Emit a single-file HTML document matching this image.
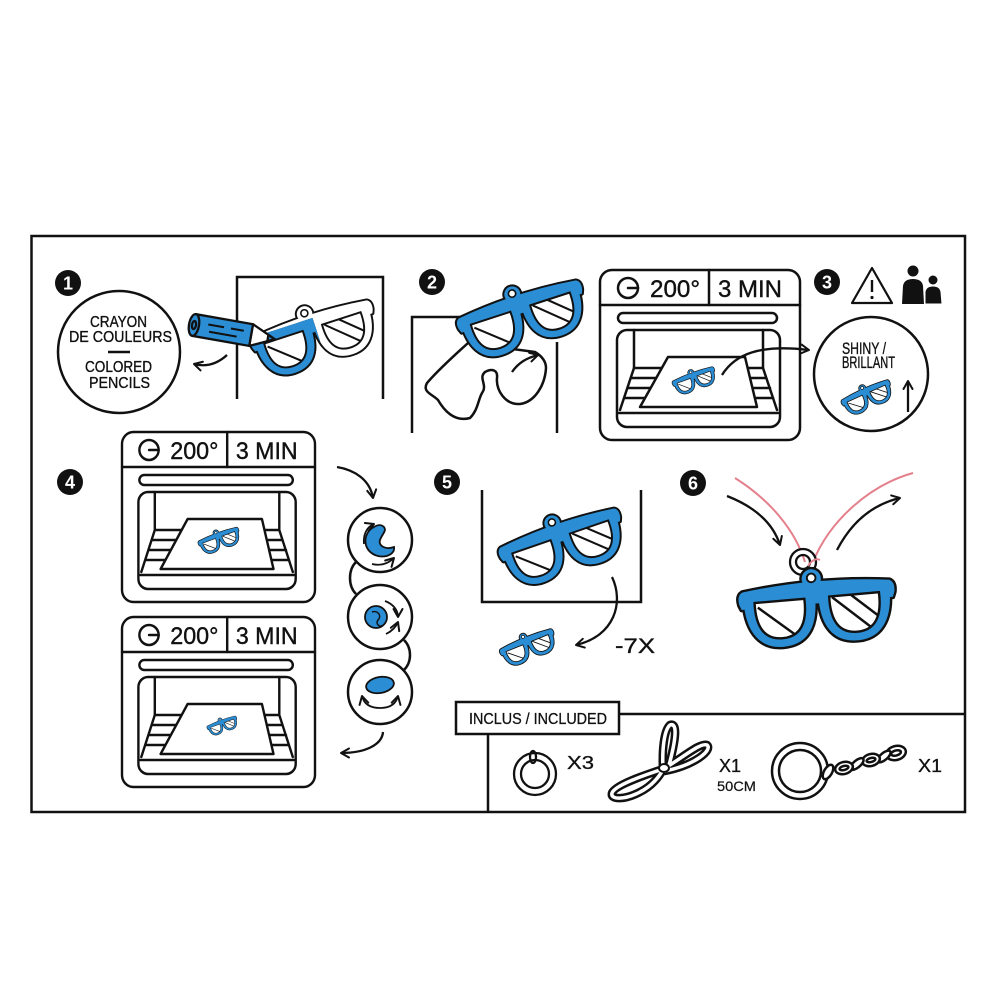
<!DOCTYPE html>
<html><head><meta charset="utf-8"><style>
html,body{margin:0;padding:0;background:#fff;}
svg{display:block;}
text{font-family:"Liberation Sans",sans-serif;}
</style></head><body>
<svg width="1000" height="1000" viewBox="0 0 1000 1000" xmlns="http://www.w3.org/2000/svg" xmlns:xlink="http://www.w3.org/1999/xlink" style="color:#2b8dd3">
<defs>
 <marker id="ah" viewBox="0 0 12 12" refX="10" refY="6" markerWidth="12" markerHeight="12" orient="auto" markerUnits="userSpaceOnUse">
  <path d="M2,1.5 L10,6 L2,10.5" fill="none" stroke="#111" stroke-width="2" stroke-linecap="round" stroke-linejoin="round"/>
 </marker>
 <clipPath id="clL"><path d="M15,25 L67,25 C68,50 60,64 41,64 C22,64 14,50 15,25 Z"/></clipPath>
 <clipPath id="clR"><path d="M93,25 L145,25 C146,50 138,64 119,64 C100,64 92,50 93,25 Z"/></clipPath>
 <clipPath id="clBlue"><rect x="-10" y="13" width="94" height="70"/></clipPath>
 <g id="glshape">
  <path d="M3,13 Q80,3 157,13 Q163,16 161,26 L159,31 L1,31 L-1,26 Q-3,16 3,13 Z"/>
  <path d="M4,18 L78,18 C80,50 70,73 41,73 C14,73 2,50 4,18 Z"/>
  <path d="M82,18 L156,18 C158,50 146,73 119,73 C90,73 80,50 82,18 Z"/>
  <circle cx="76" cy="5" r="10"/>
 </g>
 <g id="gl">
  <use xlink:href="#glshape" href="#glshape" fill="#111" stroke="#111" stroke-width="5" stroke-linejoin="round"/>
  <use xlink:href="#glshape" href="#glshape" fill="currentColor"/>
  <circle cx="76" cy="4" r="4.5" fill="#fff" stroke="#111" stroke-width="2"/>
  <path d="M15,25 L67,25 C68,50 60,64 41,64 C22,64 14,50 15,25 Z" fill="#fff" stroke="#111" stroke-width="2.5"/>
  <path d="M93,25 L145,25 C146,50 138,64 119,64 C100,64 92,50 93,25 Z" fill="#fff" stroke="#111" stroke-width="2.5"/>
  <g stroke="#111" stroke-width="2.6" clip-path="url(#clL)"><line x1="18" y1="30" x2="62" y2="68"/></g>
  <g stroke="#111" stroke-width="2.6" clip-path="url(#clR)"><line x1="96" y1="26" x2="140" y2="66"/><line x1="110" y1="20" x2="152" y2="58"/></g>
 </g>
 <g id="oven">
  <g fill="none" stroke="#111" stroke-width="2.5" stroke-linejoin="round" stroke-linecap="round">
   <rect x="0" y="0" width="200" height="170" rx="12" fill="#fff"/>
   <line x1="0" y1="35" x2="200" y2="35"/>
   <line x1="109" y1="0" x2="109" y2="35"/>
   <circle cx="28" cy="18" r="10"/>
   <line x1="28" y1="18" x2="38" y2="18"/>
   <rect x="18" y="43" width="159" height="10" rx="5"/>
   <rect x="17" y="60" width="163" height="97" rx="10"/>
   <path d="M34,60 V98 L20,140 M163,60 V98 L177,140"/>
   <path d="M34,98 H62 M31,108 H56 M28,118 H51 M25,128 H45"/>
   <path d="M148,98 H163 M150,108 H166 M152,118 H170 M155,128 H173"/>
   <line x1="19" y1="143" x2="178" y2="143"/>
   <polygon points="68,87 145,87 157,137 40,137" fill="#fff"/>
  </g>
  <text x="50" y="27" font-size="24" fill="#111" stroke="#111" stroke-width="0.4" textLength="50" lengthAdjust="spacingAndGlyphs">200°</text>
  <text x="118" y="27" font-size="24" fill="#111" stroke="#111" stroke-width="0.4" textLength="64" lengthAdjust="spacingAndGlyphs">3 MIN</text>
 </g>
</defs>

<rect x="0" y="0" width="1000" height="1000" fill="#fff"/>
<rect x="31.5" y="236" width="933.5" height="576" fill="none" stroke="#111" stroke-width="2.5"/>

<!-- ===== STEP 1 ===== -->
<g fill="none" stroke="#111" stroke-width="2.5">
 <path d="M237,399 V277 H383 V399"/>
 <circle cx="119" cy="352" r="61" fill="#fff"/>
 <line x1="108" y1="352" x2="130" y2="352"/>
</g>
<g font-size="16" fill="#111" stroke="#111" stroke-width="0.35">
 <text x="90" y="327" textLength="57" lengthAdjust="spacingAndGlyphs">CRAYON</text>
 <text x="69" y="342" textLength="103" lengthAdjust="spacingAndGlyphs">DE COULEURS</text>
 <text x="85" y="372" textLength="67" lengthAdjust="spacingAndGlyphs">COLORED</text>
 <text x="89" y="388" textLength="61" lengthAdjust="spacingAndGlyphs">PENCILS</text>
</g>
<g transform="translate(316,339) rotate(-18) scale(0.78) translate(-80,-40)">
 <use xlink:href="#gl" href="#gl" style="color:#fff"/>
 <g clip-path="url(#clBlue)"><use xlink:href="#gl" href="#gl" style="color:#2b8dd3"/></g>
</g>
<g transform="translate(194,325) rotate(10)" stroke="#111" stroke-width="2.3" stroke-linejoin="round">
 <polygon points="58,-11 82,0 58,11" fill="#fff"/>
 <polygon points="75,-3 82,0 75,3" fill="#2b8dd3"/>
 <rect x="0" y="-11" width="58" height="22" fill="#2b8dd3"/>
 <ellipse cx="0" cy="0" rx="5" ry="11" fill="#2b8dd3"/>
 <ellipse cx="0" cy="0" rx="2" ry="4" fill="none"/>
 <path d="M14,-3 H30 M37,-3 H50 M16,4 H44" fill="none" stroke-width="2"/>
</g>
<path d="M227,355 C216,365 205,367 194,364" fill="none" stroke="#111" stroke-width="2.3" marker-end="url(#ah)"/>

<!-- ===== STEP 2 ===== -->
<path d="M412,433 V317 H480 M557,342 V433" fill="none" stroke="#111" stroke-width="2.5"/>
<path d="M468,343 C455,355 440,368 427,383 C422,392 432,394 438,400 C445,412 455,422 470,418 C478,410 478,400 482,393 C488,385 478,378 485,372 C492,368 498,370 497,378 C496,390 505,405 520,404 C535,402 545,385 546,368 C546,360 540,355 535,352 Z" fill="#fff" stroke="#111" stroke-width="2.5" stroke-linejoin="round"/>
<g transform="translate(524,320) rotate(-18) scale(0.8) translate(-80,-40)"><use xlink:href="#gl" href="#gl"/></g>
<path d="M512,372 C519,362 527,358 538,355" fill="none" stroke="#111" stroke-width="2.3" marker-end="url(#ah)"/>

<!-- ===== STEP 3 ===== -->
<use xlink:href="#oven" href="#oven" transform="translate(600,270)"/>
<g transform="translate(695,381) rotate(-20) scale(0.27) translate(-80,-40)"><use xlink:href="#gl" href="#gl"/></g>
<path d="M722,375 C735,354 760,344 809,350" fill="none" stroke="#111" stroke-width="2.3" marker-end="url(#ah)"/>
<polygon points="872,268 892,303 852,303" fill="none" stroke="#111" stroke-width="2.2" stroke-linejoin="round"/>
<line x1="872" y1="280" x2="872" y2="292" stroke="#111" stroke-width="2.4"/>
<circle cx="872" cy="297.5" r="1.6" fill="#111"/>
<g fill="#111">
 <circle cx="913" cy="271" r="5.5"/>
 <path d="M902,304 L903,286 Q904,279 913,279 Q922,279 923,286 L924,304 Z"/>
 <circle cx="933" cy="280" r="4.5"/>
 <path d="M925,304 L925,292 Q926,286 933,286 Q940,286 941,292 L942,304 Z" stroke="#fff" stroke-width="1"/>
</g>
<circle cx="871" cy="374" r="57" fill="#fff" stroke="#111" stroke-width="2.5"/>
<g font-size="16.5" fill="#111" stroke="#111" stroke-width="0.35">
 <text x="842" y="354" textLength="44" lengthAdjust="spacingAndGlyphs">SHINY /</text>
 <text x="842" y="368" textLength="53" lengthAdjust="spacingAndGlyphs">BRILLANT</text>
</g>
<g transform="translate(868,398) rotate(-24) scale(0.32) translate(-80,-40)"><use xlink:href="#gl" href="#gl"/></g>
<path d="M908,412 V381" fill="none" stroke="#111" stroke-width="2.3" marker-end="url(#ah)"/>

<!-- ===== STEP 4 ===== -->
<use xlink:href="#oven" href="#oven" transform="translate(122,432) scale(0.965,1)"/>
<g transform="translate(220,541) rotate(-20) scale(0.26) translate(-80,-40)"><use xlink:href="#gl" href="#gl"/></g>
<use xlink:href="#oven" href="#oven" transform="translate(122,617) scale(0.965,1)"/>
<g transform="translate(223,726) rotate(-20) scale(0.19) translate(-80,-40)"><use xlink:href="#gl" href="#gl"/></g>
<path d="M337,467 C355,470 370,480 373,498" fill="none" stroke="#111" stroke-width="2.3" marker-end="url(#ah)"/>
<path d="M383,732 C382,745 365,753 341,753" fill="none" stroke="#111" stroke-width="2.3" marker-end="url(#ah)"/>
<g fill="none" stroke="#111" stroke-width="2.5">
 <path d="M356,562 C348,570 348,586 356,594"/>
 <path d="M404,640 C412,648 412,662 404,670"/>
 <circle cx="380" cy="540" r="32" fill="#fff"/>
 <circle cx="380" cy="617" r="32" fill="#fff"/>
 <circle cx="380" cy="692" r="32" fill="#fff"/>
</g>
<path d="M374,527 C362,533 362,552 378,556 C388,558 395,553 394,547 C386,550 378,546 380,540 C382,534 387,531 384,527 C381,524 377,525 374,527 Z" fill="#2b8dd3" stroke="#111" stroke-width="1.8"/>
<path d="M364,544 C363,534 367,527 374,524" fill="none" stroke="#111" stroke-width="1.8" marker-end="url(#ah)"/>
<path d="M372,564 C380,566 388,564 394,558" fill="none" stroke="#111" stroke-width="1.8" marker-end="url(#ah)"/>
<circle cx="376" cy="617" r="11" fill="#2b8dd3" stroke="#111" stroke-width="1.8"/>
<path d="M372,612 C378,610 382,616 378,620 C375,624 380,628 383,625" fill="none" stroke="#111" stroke-width="1.5"/>
<path d="M385,601 C393,604 398,610 398,617" fill="none" stroke="#111" stroke-width="1.8" marker-end="url(#ah)"/>
<path d="M386,634 C392,631 396,627 398,622" fill="none" stroke="#111" stroke-width="1.8" marker-end="url(#ah)"/>
<ellipse cx="380" cy="685" rx="14" ry="8" transform="rotate(-10 380 685)" fill="#2b8dd3" stroke="#111" stroke-width="1.8"/>
<path d="M380,708 C370,708 364,704 362,696" fill="none" stroke="#111" stroke-width="1.8" marker-end="url(#ah)"/>
<path d="M380,708 C390,708 396,704 398,696" fill="none" stroke="#111" stroke-width="1.8" marker-end="url(#ah)"/>

<!-- ===== STEP 5 ===== -->
<path d="M482,490 V602 H641 V490" fill="none" stroke="#111" stroke-width="2.5"/>
<g transform="translate(564,548) rotate(-19) scale(0.78) translate(-80,-40)"><use xlink:href="#gl" href="#gl"/></g>
<g transform="translate(529,648) rotate(-22) scale(0.35) translate(-80,-40)"><use xlink:href="#gl" href="#gl"/></g>
<path d="M612,577 C624,602 615,636 576,645" fill="none" stroke="#111" stroke-width="2.3" marker-end="url(#ah)"/>
<text x="615" y="653" font-size="21" fill="#111" stroke="#111" stroke-width="0.35" textLength="40" lengthAdjust="spacingAndGlyphs">-7X</text>

<!-- ===== STEP 6 ===== -->
<path d="M735,478 C770,500 795,530 805,562" fill="none" stroke="#e4808c" stroke-width="2"/>
<path d="M913,473 C870,485 830,520 813,562" fill="none" stroke="#e4808c" stroke-width="2"/>
<path d="M790,562 a13,13 0 1,0 26,0 a13,13 0 1,0 -26,0 Z M796,562 a7,7 0 1,0 14,0 a7,7 0 1,0 -14,0 Z" fill="#fff" fill-rule="evenodd" stroke="#111" stroke-width="2.3"/>
<g transform="translate(818,612) rotate(-5) scale(0.96) translate(-80,-40)"><use xlink:href="#gl" href="#gl"/></g>
<path d="M808,566 C812,560 816,558 820,560" fill="none" stroke="#e4808c" stroke-width="2"/>
<path d="M727,496 C750,505 772,520 780,545" fill="none" stroke="#111" stroke-width="2.3" marker-end="url(#ah)"/>
<path d="M837,550 C850,525 870,505 900,498" fill="none" stroke="#111" stroke-width="2.3" marker-end="url(#ah)"/>

<!-- ===== INCLUDED ===== -->
<g fill="none" stroke="#111" stroke-width="2.5">
 <line x1="619" y1="714" x2="965" y2="714"/>
 <rect x="456" y="702" width="163" height="32" fill="#fff"/>
 <line x1="488" y1="734" x2="488" y2="812"/>
</g>
<text x="469" y="724" font-size="16" fill="#111" stroke="#111" stroke-width="0.3" textLength="138" lengthAdjust="spacingAndGlyphs">INCLUS / INCLUDED</text>
<g fill="none" stroke="#111" stroke-width="2.3">
 <circle cx="535" cy="774" r="21"/>
 <circle cx="535" cy="774" r="14"/>
 <ellipse cx="533" cy="757" rx="3" ry="6"/>
</g>
<text x="567" y="769" font-size="18" fill="#111" stroke="#111" stroke-width="0.3" textLength="27" lengthAdjust="spacingAndGlyphs">X3</text>
<g fill="none" stroke-linecap="round" stroke-linejoin="round">
 <path d="M663,769 C645,775 615,785 612,793 C610,800 625,800 640,792 C652,786 660,776 663,769 M663,769 C662,750 664,730 670,725 C678,722 676,740 668,769 M663,769 C680,760 700,742 707,745 C713,750 695,765 665,771" stroke="#111" stroke-width="8.5"/>
 <path d="M663,769 C645,775 615,785 612,793 C610,800 625,800 640,792 C652,786 660,776 663,769 M663,769 C662,750 664,730 670,725 C678,722 676,740 668,769 M663,769 C680,760 700,742 707,745 C713,750 695,765 665,771" stroke="#fff" stroke-width="3.5"/>
 <ellipse cx="664" cy="768" rx="5" ry="4" fill="#fff" stroke="#111" stroke-width="2"/>
</g>
<text x="719" y="772" font-size="18" fill="#111" stroke="#111" stroke-width="0.3" textLength="22" lengthAdjust="spacingAndGlyphs">X1</text>
<text x="717" y="791" font-size="14" fill="#111" stroke="#111" stroke-width="0.2" textLength="39" lengthAdjust="spacingAndGlyphs">50CM</text>
<g stroke="#111" stroke-width="2.5" fill="#fff">
 <ellipse transform="translate(896,753) rotate(-15)" rx="10" ry="7"/>
 <ellipse transform="translate(896,753) rotate(-15)" rx="5" ry="2.5"/>
 <ellipse transform="translate(884,756.5) rotate(-40)" rx="8" ry="3.5"/>
 <ellipse transform="translate(871,760) rotate(-15)" rx="9" ry="6"/>
 <ellipse transform="translate(871,760) rotate(-15)" rx="4.5" ry="2"/>
 <ellipse transform="translate(857,764) rotate(-40)" rx="8" ry="3.5"/>
 <ellipse transform="translate(844,768) rotate(-15)" rx="9" ry="6"/>
 <ellipse transform="translate(844,768) rotate(-15)" rx="4.5" ry="2"/>
 <path d="M772,771 a28,28 0 1,0 56,0 a28,28 0 1,0 -56,0 Z M779,771 a21,21 0 1,0 42,0 a21,21 0 1,0 -42,0 Z" fill-rule="evenodd"/>
 <ellipse transform="translate(828,772) rotate(-60)" rx="8" ry="4"/>
</g>
<text x="918" y="772" font-size="18" fill="#111" stroke="#111" stroke-width="0.3" textLength="24" lengthAdjust="spacingAndGlyphs">X1</text>

<g fill="#111">
 <circle cx="68" cy="283" r="13"/>
 <circle cx="432" cy="282" r="13"/>
 <circle cx="827" cy="282" r="13"/>
 <circle cx="70" cy="482" r="13"/>
 <circle cx="447" cy="482" r="13"/>
 <circle cx="693" cy="483" r="13"/>
</g>
<g font-size="18" font-weight="bold" fill="#fff" text-anchor="middle">
 <text x="68" y="289.5">1</text>
 <text x="432" y="288.5">2</text>
 <text x="827" y="288.5">3</text>
 <text x="70" y="488.5">4</text>
 <text x="447" y="488.5">5</text>
 <text x="693" y="489.5">6</text>
</g>
</svg>
</body></html>
